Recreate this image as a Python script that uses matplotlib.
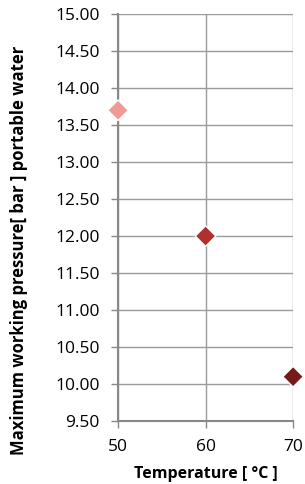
import matplotlib.pyplot as plt

# Data
temperature = [50, 60, 70]
pressure = [13.70, 12.00, 10.10]
colors = ['#F09A96', '#B0302E', '#751C1A']

y_ticks = [9.5 + 0.5 * i for i in range(12)]
x_ticks = [50, 60, 70]

plt.rcParams['font.family'] = ['Open Sans', 'DejaVu Sans']

fig = plt.figure(figsize=(3.05, 4.84), dpi=100)
ax = fig.add_axes([0.387, 0.130, 0.574, 0.841])

ax.scatter(temperature, pressure, c=colors, marker='D', s=110,
           edgecolors='white', linewidths=1.0, zorder=3, clip_on=False)

ax.set_xlim(50, 70)
ax.set_ylim(9.5, 15.0)
ax.set_xticks(x_ticks)
ax.set_yticks(y_ticks)
ax.set_yticklabels([f'{v:.2f}' for v in y_ticks])
ax.tick_params(labelsize=12.5, color='#888888', length=5, width=1)
ax.tick_params(axis='y', pad=8)
ax.tick_params(axis='x', pad=8)

ax.grid(True, color='#9a9a9a', linewidth=1)
ax.set_axisbelow(True)
for side in ['top', 'right']:
    ax.spines[side].set_visible(False)
for side in ['left', 'bottom']:
    ax.spines[side].set_color('#888888')
    ax.spines[side].set_linewidth(1.5)

ax.set_xlabel('Temperature [ °C ]', fontsize=11.5, fontweight='bold')
ax.xaxis.set_label_coords(0.5, -0.11)
ax.set_ylabel('Maximum working pressure[ bar ] portable water',
              fontsize=12, fontweight='bold')
ax.yaxis.set_label_coords(-0.515, 0.42)

fig.savefig('out.png', dpi=100)
